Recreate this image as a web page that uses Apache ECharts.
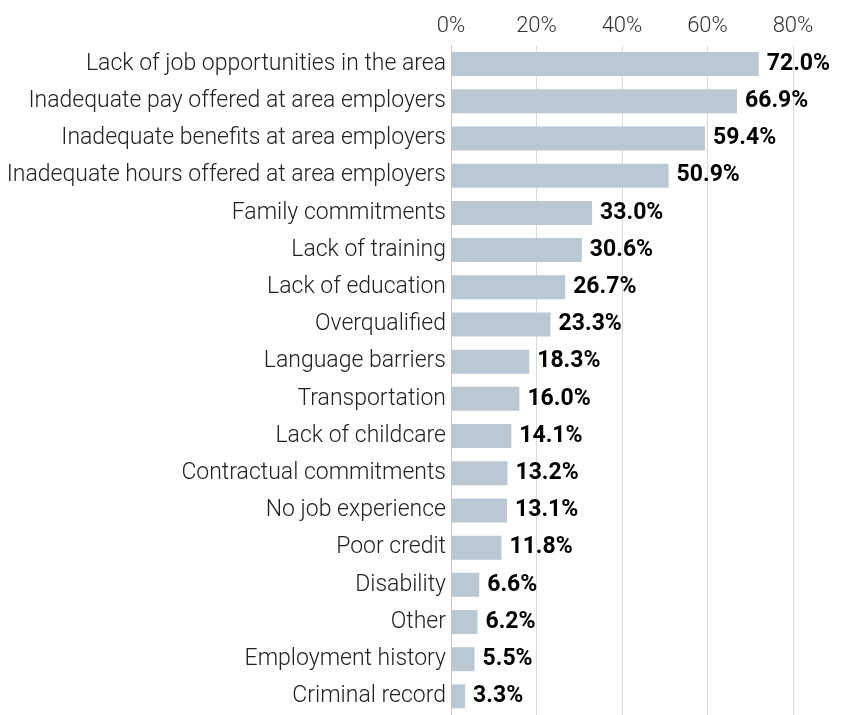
<!DOCTYPE html>
<html>
<head>
<meta charset="utf-8">
<script src="https://cdn.jsdelivr.net/npm/echarts@6/dist/echarts.min.js"></script>
<style>
  html, body { margin: 0; padding: 0; background: #fff; }
  #chart-container { width: 843px; height: 715px; }
</style>
</head>
<body>
<div id="chart-container"></div>
<script>
const categories = [
  'Lack of job opportunities in the area',
  'Inadequate pay offered at area employers',
  'Inadequate benefits at area employers',
  'Inadequate hours offered at area employers',
  'Family commitments',
  'Lack of training',
  'Lack of education',
  'Overqualified',
  'Language barriers',
  'Transportation',
  'Lack of childcare',
  'Contractual commitments',
  'No job experience',
  'Poor credit',
  'Disability',
  'Other',
  'Employment history',
  'Criminal record'
];
const values = [72.0, 66.9, 59.4, 50.9, 33.0, 30.6, 26.7, 23.3, 18.3, 16.0, 14.1, 13.2, 13.1, 11.8, 6.6, 6.2, 5.5, 3.3];
const tickLabels = ['0%', '20%', '40%', '60%', '80%'];

try {
  const chartDom = document.getElementById('chart-container');
  const myChart = echarts.init(chartDom);
  const option = {
    animation: false,
    textStyle: { fontFamily: 'Roboto' },
    grid: {
      left: 451,
      right: 50,
      top: 45.5,
      height: 674,
      containLabel: false
    },
    xAxis: {
      type: 'value',
      position: 'top',
      min: 0,
      max: 80,
      interval: 20,
      axisLine: { show: false },
      axisTick: { show: false },
      axisLabel: {
        color: '#333',
        fontSize: 22,
        fontWeight: 300,
        margin: 8,
        formatter: function (v) { return tickLabels[v / 20]; }
      },
      splitLine: { lineStyle: { color: '#d9d9d9', width: 1 } }
    },
    yAxis: {
      type: 'category',
      inverse: true,
      data: categories,
      axisLine: { show: true, lineStyle: { color: '#c8c8c8' } },
      axisTick: { show: false },
      axisLabel: {
        color: '#222',
        fontSize: 23,
        fontWeight: 300,
        margin: 5
      }
    },
    series: [{
      type: 'bar',
      data: values,
      barWidth: 24,
      itemStyle: { color: '#b9c8d3' },
      label: {
        show: true,
        position: 'right',
        distance: 8,
        color: '#000',
        fontSize: 23,
        fontWeight: 'bold',
        formatter: function (p) { return p.value.toFixed(1) + '%'; }
      }
    }]
  };
  myChart.setOption(option);
} catch (error) {
  console.error('Failed to render chart:', error);
  document.body.innerHTML = `<div style="color: red;">Error rendering chart: ${error}</div>`;
}
</script>
</body>
</html>
